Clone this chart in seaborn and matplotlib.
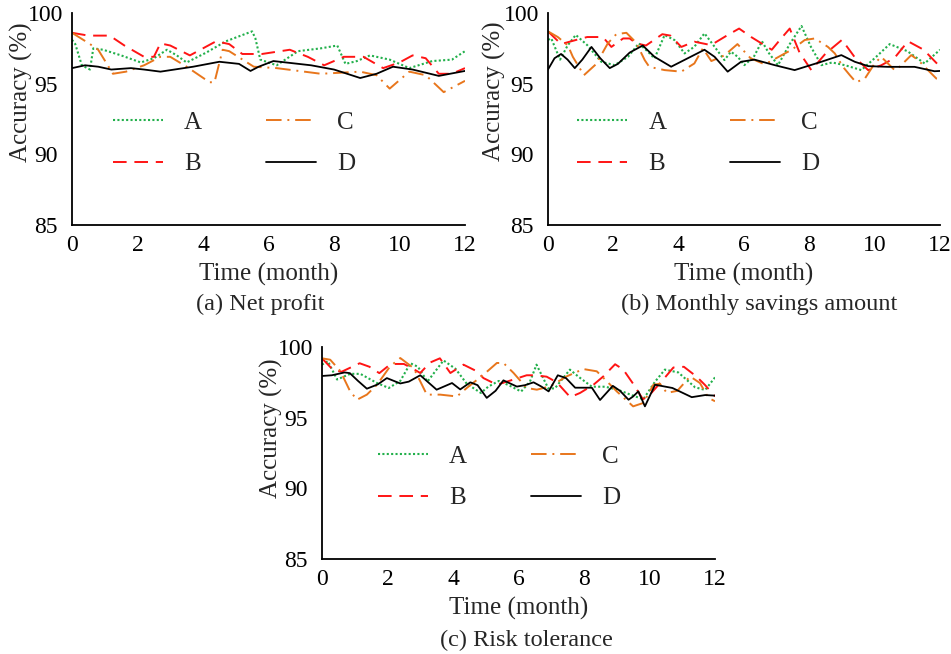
import matplotlib
matplotlib.use("Agg")
import matplotlib.pyplot as plt
import seaborn as sns
from matplotlib.ticker import MultipleLocator

# ---------------- data ----------------
# Panel (a) Net profit
a_A_t = [0, 0.1, 0.3, 0.55, 0.65, 0.95, 1.5, 2.1, 2.5, 2.9, 3.2, 3.5, 4.1, 4.7, 5.5, 5.6, 5.75, 6.25, 6.9, 7.6, 8.1, 8.35, 8.7, 9.1, 9.7, 10.3, 11.0, 11.6, 12]
a_A_v = [98.1, 97.8, 96.3, 96.0, 97.5, 97.4, 97.0, 96.5, 96.8, 97.4, 97.0, 96.5, 97.2, 98.0, 98.7, 98.2, 96.7, 96.3, 97.3, 97.5, 97.7, 96.4, 96.6, 97.0, 96.7, 96.1, 96.6, 96.7, 97.3]
a_B_t = [0, 0.5, 1.15, 1.6, 2.2, 2.5, 2.7, 3.0, 3.6, 4.0, 4.4, 4.8, 5.2, 5.8, 6.65, 7.2, 7.7, 8.3, 8.9, 9.5, 10.0, 10.4, 10.8, 11.2, 11.6, 12]
a_B_v = [98.6, 98.4, 98.4, 97.7, 96.9, 96.9, 97.85, 97.7, 97.0, 97.5, 98.0, 97.8, 97.1, 97.1, 97.4, 96.9, 96.3, 96.9, 96.9, 96.1, 96.5, 97.0, 96.8, 95.7, 95.7, 96.1]
a_C_t = [0, 0.55, 0.8, 1.25, 1.65, 2.2, 2.7, 3.0, 3.5, 4.2, 4.35, 4.6, 4.8, 5.55, 6.25, 7.6, 8.8, 9.3, 9.7, 10.3, 10.8, 11.35, 12]
a_C_v = [98.6, 97.8, 97.4, 95.7, 95.85, 96.3, 96.9, 96.9, 96.2, 95.1, 95.1, 97.4, 97.3, 96.2, 96.1, 95.7, 95.85, 95.6, 94.65, 95.85, 95.6, 94.4, 95.2]
a_D_t = [0, 0.4, 0.8, 1.2, 1.8, 2.2, 2.7, 3.7, 4.5, 5.1, 5.45, 5.7, 6.15, 7.3, 8.0, 8.8, 9.3, 9.8, 10.4, 11.2, 12]
a_D_v = [96.1, 96.3, 96.2, 96.0, 96.1, 96.0, 95.85, 96.2, 96.55, 96.4, 95.9, 96.2, 96.6, 96.3, 96.0, 95.4, 95.7, 96.2, 96.0, 95.55, 95.9]

# Panel (b) Monthly savings amount
b_A_t = [0, 0.1, 0.37, 0.6, 0.85, 1.2, 1.63, 2.04, 2.45, 2.78, 3.06, 3.26, 3.57, 3.87, 4.18, 4.48, 4.79, 5.1, 5.4, 5.6, 5.81, 6.01, 6.3, 6.55, 6.75, 7.04, 7.4, 7.76, 8.05, 8.37, 8.7, 9.1, 9.59, 10.0, 10.46, 11.0, 11.53, 12]
b_A_v = [98.1, 98.2, 96.7, 97.7, 98.45, 97.73, 96.55, 96.31, 96.9, 97.85, 97.26, 96.78, 98.44, 98.09, 97.14, 97.61, 98.56, 97.61, 96.67, 97.26, 96.9, 96.31, 96.9, 98.0, 97.2, 96.31, 97.8, 99.08, 97.6, 96.31, 96.5, 96.3, 95.96, 96.8, 97.8, 97.3, 96.43, 97.4]
b_B_t = [0, 0.4, 0.87, 1.2, 1.68, 1.94, 2.3, 2.5, 2.7, 3.0, 3.5, 3.75, 4.08, 4.48, 4.99, 5.5, 5.85, 6.22, 6.5, 6.85, 7.1, 7.4, 7.7, 8.06, 8.5, 9.0, 9.38, 9.8, 10.2, 10.6, 11.02, 11.5, 12]
b_B_v = [98.7, 97.8, 98.1, 98.3, 98.3, 97.6, 98.2, 98.2, 97.85, 97.7, 98.5, 98.4, 97.6, 97.97, 97.73, 98.44, 98.9, 98.3, 97.9, 97.4, 98.1, 98.9, 97.2, 95.96, 97.14, 98.1, 96.9, 95.96, 96.3, 96.8, 98.0, 97.4, 96.2]
b_C_t = [0, 0.3, 0.61, 0.76, 1.1, 1.48, 1.83, 2.09, 2.4, 2.7, 2.96, 3.1, 3.57, 4.08, 4.48, 4.74, 5.0, 5.4, 5.8, 6.2, 6.6, 6.79, 7.25, 7.45, 7.86, 8.17, 8.57, 8.78, 9.03, 9.24, 9.43, 9.7, 10.0, 10.2, 10.61, 10.76, 11.12, 11.33, 11.63, 11.89, 12]
b_C_v = [98.7, 98.3, 97.7, 96.9, 95.6, 96.4, 97.85, 98.5, 98.6, 97.9, 96.67, 96.19, 95.96, 95.85, 96.43, 97.5, 96.6, 97.0, 97.8, 96.8, 96.4, 96.55, 97.14, 97.38, 98.09, 98.2, 97.6, 97.14, 96.19, 95.6, 95.1, 95.36, 96.43, 96.9, 95.96, 96.19, 97.02, 96.67, 95.96, 95.36, 95.3]
b_D_t = [0, 0.2, 0.4, 0.6, 0.82, 1.05, 1.33, 1.6, 1.89, 2.14, 2.5, 2.9, 3.26, 3.77, 4.28, 4.79, 5.1, 5.5, 5.91, 6.32, 6.94, 7.55, 8.37, 8.98, 9.39, 9.8, 10.41, 11.22, 11.83, 12]
b_D_v = [96.0, 96.8, 97.1, 96.7, 96.1, 96.7, 97.6, 96.8, 96.1, 96.4, 97.2, 97.7, 96.9, 96.2, 96.8, 97.4, 96.9, 95.85, 96.55, 96.7, 96.31, 95.96, 96.55, 97.02, 96.55, 96.24, 96.19, 96.19, 95.88, 95.9]

# Panel (c) Risk tolerance
c_A_t = [0, 0.18, 0.46, 0.86, 1.17, 1.68, 2.04, 2.39, 2.7, 2.93, 3.22, 3.71, 4.08, 4.42, 4.85, 5.08, 5.4, 5.7, 6.08, 6.35, 6.55, 6.71, 6.91, 7.11, 7.57, 7.83, 8.24, 8.65, 9.05, 9.45, 9.81, 10.17, 10.47, 10.88, 11.39, 11.7, 12]
c_A_v = [98.75, 99.0, 97.7, 98.1, 98.1, 97.45, 97.1, 97.6, 98.85, 98.6, 97.55, 99.05, 98.45, 97.4, 96.75, 97.2, 97.6, 97.3, 96.85, 97.55, 98.75, 98.0, 97.07, 97.07, 98.4, 97.9, 97.19, 97.19, 96.96, 96.6, 96.3, 97.55, 98.4, 98.2, 97.15, 96.96, 97.85]
c_B_t = [0, 0.34, 0.6, 1.15, 1.45, 1.75, 2.1, 2.5, 2.75, 3.0, 3.3, 3.6, 3.92, 4.32, 4.73, 4.93, 5.34, 5.85, 6.25, 6.5, 6.86, 7.17, 7.58, 7.88, 8.29, 8.59, 8.95, 9.2, 9.5, 9.8, 10.0, 10.42, 10.73, 11.05, 11.44, 11.7, 12]
c_B_v = [99.2, 98.37, 98.25, 98.85, 98.6, 98.15, 98.8, 98.8, 98.5, 98.16, 98.9, 99.2, 98.16, 98.75, 98.28, 97.8, 97.33, 97.7, 98.0, 98.0, 97.9, 97.5, 96.45, 96.75, 97.33, 97.92, 98.78, 98.4, 97.4, 96.3, 96.6, 97.7, 98.55, 98.6, 97.9, 97.3, 96.5]
c_C_t = [0, 0.25, 0.56, 0.86, 1.07, 1.37, 1.68, 2.08, 2.39, 2.8, 3.0, 3.2, 3.61, 4.12, 4.42, 4.93, 5.34, 5.54, 5.85, 6.25, 6.56, 6.97, 7.47, 7.98, 8.39, 8.7, 9.0, 9.5, 9.81, 10.12, 10.32, 10.53, 10.85, 11.24, 11.54, 11.8, 12]
c_C_v = [99.2, 99.1, 98.3, 96.86, 96.27, 96.63, 97.33, 98.63, 99.22, 98.5, 97.57, 96.63, 96.63, 96.5, 97.1, 98.04, 98.87, 98.87, 98.16, 97.1, 96.98, 97.22, 97.92, 98.44, 98.28, 97.57, 96.86, 95.8, 96.04, 97.33, 97.4, 96.75, 96.9, 97.92, 97.45, 96.4, 96.16]
c_D_t = [0, 0.3, 0.69, 0.85, 1.1, 1.37, 1.7, 1.98, 2.39, 2.65, 3.0, 3.5, 3.97, 4.22, 4.53, 4.75, 5.03, 5.3, 5.54, 5.95, 6.2, 6.46, 6.7, 6.92, 7.2, 7.45, 7.73, 8.24, 8.49, 8.88, 9.1, 9.36, 9.5, 9.66, 9.86, 10.17, 10.7, 11.29, 11.7, 12]
c_D_v = [97.95, 98.0, 98.2, 98.15, 97.6, 97.05, 97.35, 97.8, 97.42, 97.55, 98.0, 96.98, 97.45, 97.0, 97.5, 97.3, 96.4, 96.9, 97.64, 97.2, 97.3, 97.5, 97.2, 96.86, 98.0, 97.8, 97.12, 97.12, 96.25, 97.25, 96.9, 96.27, 96.5, 96.86, 95.8, 97.33, 97.1, 96.45, 96.6, 96.56]

series_names = ["A", "B", "C", "D"]
captions = ["(a) Net profit", "(b) Monthly savings amount", "(c) Risk tolerance"]
x_label = "Time (month)"
y_label = "Accuracy (%)"

panels = [
    [(a_A_t, a_A_v), (a_B_t, a_B_v), (a_C_t, a_C_v), (a_D_t, a_D_v)],
    [(b_A_t, b_A_v), (b_B_t, b_B_v), (b_C_t, b_C_v), (b_D_t, b_D_v)],
    [(c_A_t, c_A_v), (c_B_t, c_B_v), (c_C_t, c_C_v), (c_D_t, c_D_v)],
]

# ---------------- style ----------------
sns.set_style("white")
plt.rcParams["font.family"] = ["Liberation Serif", "DejaVu Serif"]

colors = ["#22b04b", "#ff1414", "#e8761c", "#000000"]
styles = [(0, (1, 1.1)), (0, (7, 4)), (0, (8, 3, 1, 3)), "-"]
widths = [1.5, 1.4, 1.4, 1.3]

W, H = 951, 654
fig = plt.figure(figsize=(W / 100, H / 100), dpi=100)

# axes rectangles in pixel coords: left, right, top, bottom
rects = [(72, 465, 13, 225), (548, 940, 13, 225), (322, 715, 347, 559)]
legend_x = [0.104, 0.074, 0.142]
caption_dx = [-0.02, 0.04, 0.02]
caption_y = [-0.375, -0.375, -0.382]
ylabel_x = [-0.099, -0.108, -0.099]
ylabel_y = [0.627, 0.63, 0.618]

for i, (l, r, t, b) in enumerate(rects):
    ax = fig.add_axes([l / W, (H - b) / H, (r - l) / W, (b - t) / H])
    for j, (tt, vv) in enumerate(panels[i]):
        sns.lineplot(x=tt, y=vv, ax=ax, color=colors[j], linestyle=styles[j],
                     linewidth=widths[j], estimator=None, sort=False,
                     label=series_names[j])
    ax.set_xlim(0, 12)
    ax.set_ylim(85, 100)
    ax.xaxis.set_major_locator(MultipleLocator(2))
    ax.xaxis.set_minor_locator(MultipleLocator(1))
    ax.yaxis.set_major_locator(MultipleLocator(5))
    ax.yaxis.set_minor_locator(MultipleLocator(2.5))
    ax.tick_params(which="both", direction="in", length=4.5, width=1.2,
                   colors="black", labelsize=17)
    ax.tick_params(axis="x", pad=7)
    ax.tick_params(axis="y", pad=19)
    for lab in ax.get_yticklabels():
        lab.set_horizontalalignment("center")
    for s in ["top", "right"]:
        ax.spines[s].set_visible(False)
    for s in ["left", "bottom"]:
        ax.spines[s].set_color("black")
        ax.spines[s].set_linewidth(1.3)
    ax.set_xlabel(x_label, fontsize=18, labelpad=5)
    ax.set_ylabel(y_label, fontsize=18)
    ax.yaxis.set_label_coords(ylabel_x[i], ylabel_y[i])
    ax.grid(False)
    h, lab = ax.get_legend_handles_labels()
    ax.legend(h, lab, ncol=2, loc="upper left",
              bbox_to_anchor=(legend_x[i], 0.535), frameon=False,
              fontsize=18, handlelength=2.0, handletextpad=0.85,
              columnspacing=2.55, labelspacing=0.75, borderpad=0,
              borderaxespad=0)
    ax.text(0.5 + caption_dx[i], caption_y[i], captions[i],
            transform=ax.transAxes, ha="center", va="center", fontsize=17.5)

fig.savefig("out.png", dpi=100, facecolor="white")
